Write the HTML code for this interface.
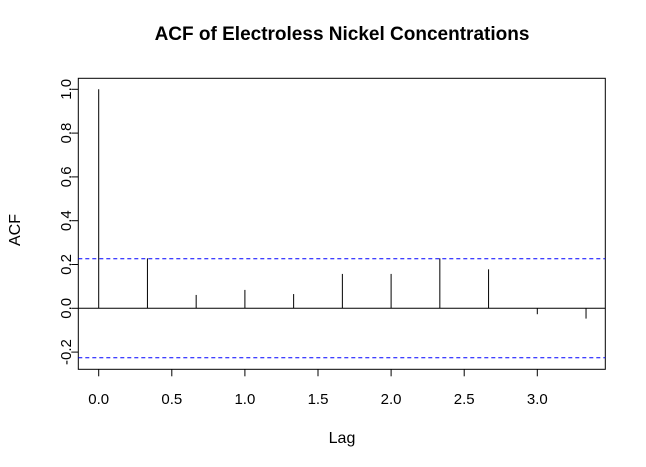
<!DOCTYPE html>
<html><head><meta charset="utf-8"><style>
body{margin:0;background:#fff}
svg{display:block;font-family:"Liberation Sans",Arial,sans-serif}
</style></head><body>
<svg id="chart" width="646" height="467">
<text x="342" y="40" text-anchor="middle" font-size="19" font-weight="bold">ACF of Electroless Nickel Concentrations</text>
<text x="342" y="443" text-anchor="middle" font-size="16">Lag</text>
<text transform="translate(20,230) rotate(-90)" text-anchor="middle" font-size="16">ACF</text>
<g id="plot"></g>
</svg>
<script>
const lags=[0,1/3,2/3,1,4/3,5/3,2,7/3,8/3,3,10/3];
const acfValues=[1,0.228,0.061,0.084,0.065,0.157,0.157,0.228,0.178,-0.027,-0.047];
const ciBound=0.226;
const xTicks=[0,0.5,1,1.5,2,2.5,3];
const xTickLabels=["0.0","0.5","1.0","1.5","2.0","2.5","3.0"];
const yTicks=[-0.2,0,0.2,0.4,0.6,0.8,1.0];
const yTickLabels=["-0.2","0.0","0.2","0.4","0.6","0.8","1.0"];
const NS="http://www.w3.org/2000/svg";
const L=78.3,R=605.3,T=78.3,B=369.3;
const X=v=>98.7+v*146.2;
const Y=v=>308.3-v*219;
const g=document.getElementById('plot');
function mk(tag,a){const e=document.createElementNS(NS,tag);for(const k in a)e.setAttribute(k,a[k]);g.appendChild(e);return e;}
let e;
e=mk('rect',{x:L,y:T,width:R-L,height:B-T,fill:'none',stroke:'#000','stroke-width':1});


e=mk('line',{x1:L,x2:R,y1:Y(0),y2:Y(0),stroke:'#000','stroke-width':1});


[ciBound,-ciBound].forEach((c,i)=>{
 e=mk('line',{x1:L,x2:R,y1:Y(c),y2:Y(c),stroke:'#0000ff','stroke-width':1,'stroke-dasharray':'4,3'});
 
 
});
lags.forEach((l,i)=>{
 e=mk('line',{x1:X(l),x2:X(l),y1:Y(0),y2:Y(acfValues[i]),stroke:'#000','stroke-width':1});
 
 
});
xTicks.forEach((t,i)=>{
 e=mk('line',{x1:X(t),x2:X(t),y1:B,y2:B+7,stroke:'#000'});
 
 
 e=mk('text',{x:X(t),y:404,'text-anchor':'middle','font-size':15});
 e.textContent=xTickLabels[i];
 
 
});
yTicks.forEach((t,i)=>{
 e=mk('line',{x1:L-7,x2:L,y1:Y(t),y2:Y(t),stroke:'#000'});
 
 
 e=mk('text',{transform:`translate(71,${Y(t)}) rotate(-90)`,'text-anchor':'middle','font-size':15});
 e.textContent=yTickLabels[i];
 
 
});
</script>
</body></html>
